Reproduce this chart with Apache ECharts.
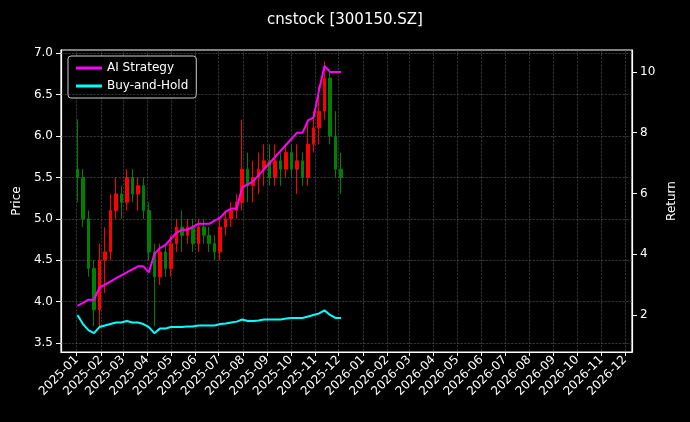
<!DOCTYPE html>
<html><head><meta charset="utf-8">
<script src="https://cdn.jsdelivr.net/npm/echarts@6/dist/echarts.min.js"></script>
<style>html,body{margin:0;background:#000}#c{width:690px;height:422px}</style>
</head><body><div id="c"></div>
<script>
const firstWeek = '2025-01-02';
// weekly candles [open, close, low, high]
const ohlc = [
[5.6,5.5,5.2,6.2],[5.5,5.0,4.9,5.6],[5.0,4.4,4.3,5.1],[4.4,3.9,3.7,4.5],[3.9,4.5,3.7,4.7],
[4.5,4.6,4.1,4.9],[4.6,5.1,4.5,5.3],[5.1,5.3,5.0,5.5],[5.3,5.2,5.0,5.4],[5.2,5.5,5.1,5.6],
[5.5,5.3,5.2,5.6],[5.3,5.4,5.1,5.5],[5.4,5.1,5.0,5.5],[5.1,4.6,4.5,5.2],[4.6,4.3,3.7,4.7],
[4.3,4.6,4.2,4.7],[4.6,4.4,4.3,4.7],[4.4,4.7,4.3,4.8],[4.7,4.9,4.6,5.0],[4.9,4.8,4.6,5.1],
[4.8,4.9,4.7,5.0],[4.9,4.7,4.6,5.0],[4.7,4.9,4.6,5.0],[4.9,4.8,4.7,5.0],[4.8,4.7,4.6,4.9],
[4.7,4.6,4.5,4.8],[4.6,4.9,4.5,5.0],[4.9,5.0,4.8,5.1],[5.0,5.1,4.9,5.2],[5.1,5.2,5.0,5.3],
[5.2,5.6,5.1,6.2],[5.6,5.4,5.2,5.8],[5.4,5.5,5.2,5.7],[5.5,5.6,5.3,5.8],[5.6,5.7,5.4,5.9],
[5.7,5.5,5.4,5.9],[5.5,5.7,5.4,5.9],[5.7,5.6,5.4,5.8],[5.6,5.8,5.5,5.9],[5.8,5.6,5.5,5.9],
[5.6,5.7,5.3,5.9],[5.7,5.5,5.4,5.8],[5.5,5.9,5.4,6.2],[5.9,6.1,5.8,6.3],[6.1,6.3,5.9,6.6],
[6.3,6.7,6.2,6.9],[6.7,6.0,5.9,6.8],[6.0,5.6,5.5,6.3],[5.6,5.5,5.3,5.8]];
const aiStrategy = [2.3,2.4,2.5,2.5,2.9,3.0,3.1,3.2,3.3,3.4,3.5,3.6,3.6,3.4,4.0,4.2,4.3,4.5,4.7,4.8,4.8,4.9,5.0,5.0,5.0,5.1,5.2,5.4,5.5,5.5,6.2,6.3,6.4,6.6,6.8,7.0,7.2,7.4,7.6,7.8,8.0,8.0,8.4,8.5,9.4,10.2,10.0,10.0,10.0];
const buyHold = [2.0,1.7,1.5,1.4,1.6,1.65,1.7,1.75,1.75,1.8,1.75,1.75,1.7,1.6,1.4,1.55,1.55,1.6,1.6,1.6,1.62,1.62,1.65,1.65,1.65,1.65,1.7,1.72,1.75,1.78,1.85,1.8,1.8,1.82,1.85,1.85,1.85,1.85,1.88,1.9,1.9,1.9,1.95,2.0,2.05,2.15,2.0,1.9,1.9];
const priceTicks = [3.5,4.0,4.5,5.0,5.5,6.0,6.5,7.0];
const returnTicks = [2,4,6,8,10];

const fmt = d => d.toISOString().slice(0,10);
const days = [];
for (let d = new Date('2024-12-12T00:00:00Z'); d <= new Date('2026-12-10T00:00:00Z'); d.setUTCDate(d.getUTCDate()+1)) days.push(fmt(d));
const weeks = days.filter((d,i)=>i%7===0);
const widx = {}; weeks.forEach((d,i)=>widx[d]=i);
const candle = weeks.map(()=>'-'), ai = weeks.map(()=>null), bh = weeks.map(()=>null);
ohlc.forEach((v,i)=>{const d=new Date(firstWeek+'T00:00:00Z'); d.setUTCDate(d.getUTCDate()+7*i); const k=widx[fmt(d)]; candle[k]=v; ai[k]=aiStrategy[i]; bh[k]=buyHold[i];});
const isMonth = (i,v) => v.endsWith('-01');
const grid = {type:'dashed', color:'#555', width:0.6};

const chart = echarts.init(document.getElementById('c'));
chart.setOption({
  backgroundColor:'#000', animation:false,
  title:{text:'cnstock [300150.SZ]', left:'center', top:8, textStyle:{color:'#fff', fontSize:15, fontWeight:'normal', fontFamily:'DejaVu Sans'}},
  legend:{left:68, top:56, orient:'vertical', itemGap:6, padding:[6,8], borderColor:'#ccc', borderWidth:1, borderRadius:3, backgroundColor:'#000',
    textStyle:{color:'#fff', fontSize:12, fontFamily:'DejaVu Sans'}, itemWidth:26, itemHeight:3, icon:'rect',
    data:['AI Strategy','Buy-and-Hold']},
  grid:{left:61, right:58, top:50, bottom:70, show:true, borderColor:'#fff', borderWidth:1.2, backgroundColor:'transparent'},
  xAxis:[{type:'category', data:days, boundaryGap:false,
    axisLine:{lineStyle:{color:'#fff', width:1.2}},
    axisTick:{interval:isMonth, lineStyle:{color:'#fff'}, length:4},
    axisLabel:{interval:isMonth, rotate:45, color:'#fff', fontSize:12, fontFamily:'DejaVu Sans', formatter:v=>v.slice(0,7), margin:6},
    splitLine:{show:true, interval:isMonth, lineStyle:grid}},
    {type:'category', data:weeks, boundaryGap:false, position:'bottom', show:false}],
  yAxis:[
    {type:'value', min:3.39, max:7.04, name:'Price', nameLocation:'middle', nameGap:34, nameRotate:90,
      nameTextStyle:{color:'#fff', fontSize:12, fontFamily:'DejaVu Sans'},
      axisLine:{show:true, lineStyle:{color:'#fff', width:1.2}}, axisTick:{show:true, customValues:priceTicks, lineStyle:{color:'#fff'}},
      axisLabel:{customValues:priceTicks, color:'#fff', fontSize:12, fontFamily:'DejaVu Sans', formatter:v=>v.toFixed(1)}, splitLine:{show:false}},
    {type:'value', min:0.78, max:10.72, name:'Return', nameLocation:'middle', nameGap:30, nameRotate:90,
      nameTextStyle:{color:'#fff', fontSize:12, fontFamily:'DejaVu Sans'},
      axisLine:{show:true, lineStyle:{color:'#fff', width:1.2}}, axisTick:{show:true, customValues:returnTicks, lineStyle:{color:'#fff'}},
      axisLabel:{customValues:returnTicks, color:'#fff', fontSize:12, fontFamily:'DejaVu Sans'}, splitLine:{show:false}}
  ],
  series:[
    {type:'candlestick', data:candle, barWidth:3, xAxisIndex:1, yAxisIndex:0,
      itemStyle:{color:'#ff0000', color0:'#008000', borderColor:'#ff0000', borderColor0:'#008000', borderWidth:1},
      markLine:{silent:true, symbol:'none', label:{show:false}, lineStyle:grid, data:priceTicks.map(v=>({yAxis:v}))}},
    {name:'AI Strategy', type:'line', xAxisIndex:1, yAxisIndex:1, data:ai, connectNulls:true, showSymbol:false, lineStyle:{color:'#ff00ff', width:2}, itemStyle:{color:'#ff00ff'}},
    {name:'Buy-and-Hold', type:'line', xAxisIndex:1, yAxisIndex:1, data:bh, connectNulls:true, showSymbol:false, lineStyle:{color:'#00ffff', width:2}, itemStyle:{color:'#00ffff'}}
  ]
});
</script></body></html>
